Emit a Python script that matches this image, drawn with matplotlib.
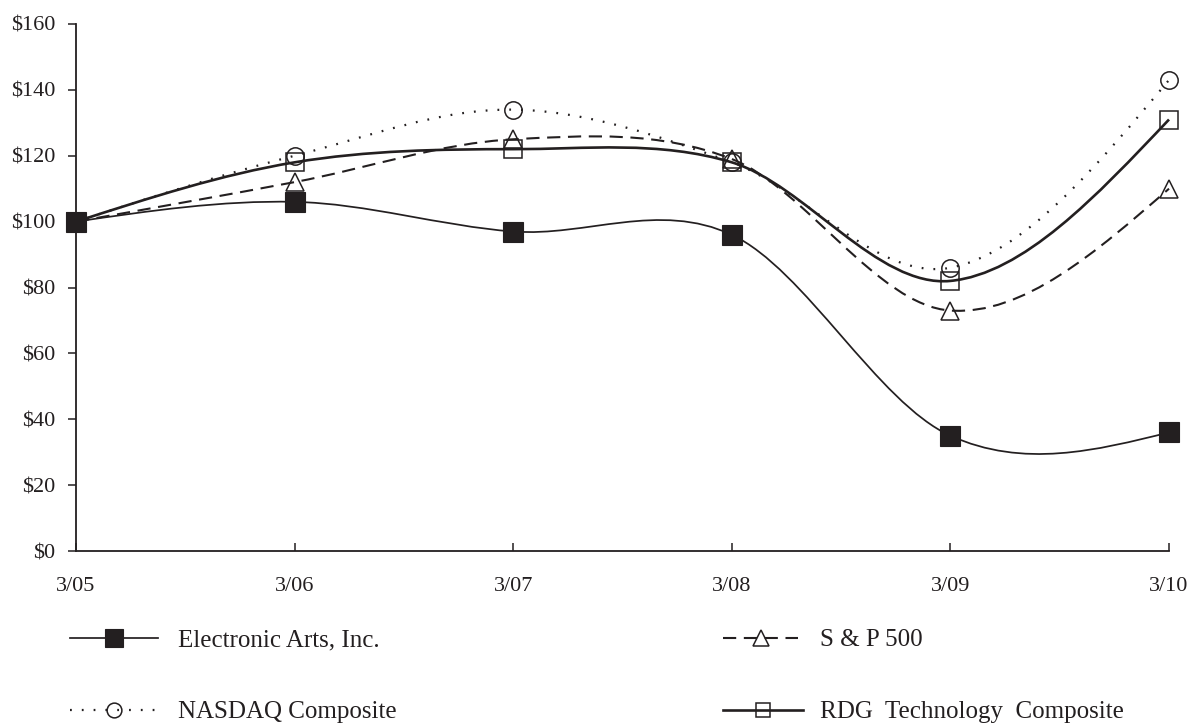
import matplotlib
matplotlib.use("Agg")
import matplotlib.pyplot as plt
from matplotlib.path import Path
from matplotlib.patches import PathPatch
from matplotlib.lines import Line2D

# ---- data ----
periods = ['3/05', '3/06', '3/07', '3/08', '3/09', '3/10']
ea = [100, 106, 97, 96, 35, 36]
sp500 = [100, 112, 125, 119, 73, 110]
nasdaq = [100, 120, 134, 118, 86, 143]
rdg = [100, 118, 122, 118, 82, 131]
y_ticks = [0, 20, 40, 60, 80, 100, 120, 140, 160]
series_names = ['Electronic Arts, Inc.', 'S & P 500', 'NASDAQ Composite',
                'RDG  Technology  Composite']

INK = '#231f20'
plt.rcParams['font.family'] = ['Liberation Serif', 'DejaVu Serif']
plt.rcParams['lines.scale_dashes'] = False

fig = plt.figure(figsize=(11.93, 7.25), dpi=100)
W, H = 1193, 725
ax = fig.add_axes([76 / W, 1 - 551 / H, (1169 - 76) / W, (551 - 24) / H])

xs = list(range(len(periods)))


def smooth_path(x, y):
    """Excel-like smoothed line through the points (cubic Bezier segments)."""
    n = len(x)
    m = [0.0] * n
    for i in range(1, n - 1):
        m[i] = (y[i + 1] - y[i - 1]) / (x[i + 1] - x[i - 1])
    m[0] = (3 * (y[1] - y[0]) / (x[1] - x[0]) - m[1]) / 2
    m[-1] = (3 * (y[-1] - y[-2]) / (x[-1] - x[-2]) - m[-2]) / 2
    verts = [(x[0], y[0])]
    codes = [Path.MOVETO]
    for i in range(n - 1):
        dx = x[i + 1] - x[i]
        verts += [(x[i] + dx / 3, y[i] + m[i] * dx / 3),
                  (x[i + 1] - dx / 3, y[i + 1] - m[i + 1] * dx / 3),
                  (x[i + 1], y[i + 1])]
        codes += [Path.CURVE4] * 3
    return Path(verts, codes)


styles = [
    dict(data=ea, lw=1.25, ls='-', marker='s', ms=14.5, mfc=INK, mew=0.8),
    dict(data=sp500, lw=1.5, ls=(0, (9.5, 5.5)), marker='^', ms=13, mfc='none', mew=1.1),
    dict(data=nasdaq, lw=1.6, ls=(0, (1.3, 7.2)), marker='o', ms=12.5, mfc='none', mew=1.1),
    dict(data=rdg, lw=1.9, ls='-', marker='s', ms=12.5, mfc='none', mew=1.1),
]

handles = []
for st in styles:
    patch = PathPatch(smooth_path(xs, st['data']), facecolor='none', edgecolor=INK,
                      lw=st['lw'], ls=st['ls'], clip_on=False, zorder=2)
    ax.add_patch(patch)
    ax.plot(xs, st['data'], ls='none', marker=st['marker'], ms=st['ms'],
            mfc=st['mfc'], mec=INK, mew=st['mew'], clip_on=False, zorder=4)
    handles.append(Line2D([], [], color=INK, lw=st['lw'], ls=st['ls'],
                          marker=st['marker'], ms=st['ms'] * 0.85,
                          mfc=st['mfc'], mec=INK, mew=st['mew']))

ax.set_xlim(0, len(periods) - 1)
ax.set_ylim(0, 160)
ax.set_xticks(xs)
ax.set_xticklabels(periods)
ax.set_yticks(y_ticks)
ax.set_yticklabels(['$%d' % v for v in y_ticks])

for s in ['top', 'right']:
    ax.spines[s].set_visible(False)
for s in ['left', 'bottom']:
    ax.spines[s].set_color(INK)
    ax.spines[s].set_linewidth(1.3)

ax.tick_params(axis='y', direction='out', length=6, width=1.1, color=INK,
               labelsize=16, labelcolor=INK, pad=9)
ax.tick_params(axis='x', direction='in', length=6, width=1.1, color=INK,
               labelsize=16, labelcolor=INK, pad=19)

# legend entries placed individually
positions = [(70, 640, 3.5, 0.8), (723, 640, 3.0, 0.9),
             (70, 712, 3.5, 0.8), (723, 712, 3.2, 0.7)]
for h, name, (px, py, hl, htp) in zip(handles, series_names, positions):
    fig.legend(handles=[h], labels=[name], loc='center left',
               bbox_to_anchor=(px / W, 1 - py / H), frameon=False,
               handlelength=hl, handletextpad=htp, borderpad=0,
               borderaxespad=0, numpoints=1, fontsize=18, labelcolor=INK)

fig.savefig('out.png', dpi=100)
